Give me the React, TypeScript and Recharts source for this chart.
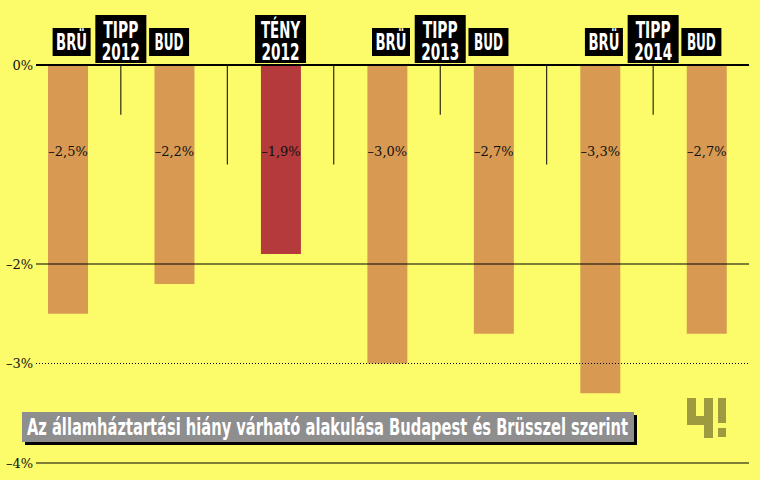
import React from "react";
import {
  BarChart,
  Bar,
  Cell,
  XAxis,
  YAxis,
  ReferenceLine,
  LabelList,
} from "recharts";

// 13 slots: bars on even slots, marker lines on odd ones
const categories = [
  "bru12", "tipp12", "bud12", "sep12", "teny12", "sep13",
  "bru13", "tipp13", "bud13", "sep14", "bru14", "tipp14", "bud14",
];
const tickLabels = [
  ["BRÜ"], ["TIPP", "2012"], ["BUD"], [], ["TÉNY", "2012"], [],
  ["BRÜ"], ["TIPP", "2013"], ["BUD"], [], ["BRÜ"], ["TIPP", "2014"], ["BUD"],
];
const deficits = [-2.5, null, -2.2, null, -1.9, null, -3.0, null, -2.7, null, -3.3, null, -2.7];
const isActual = [false, false, false, false, true, false, false, false, false, false, false, false, false];
const markerDepths = [null, -0.5, null, -1, null, -1, null, -0.5, null, -1, null, -0.5, null];
const yTicks = [0, -2, -3, -4];

const TITLE = "Az államháztartási hiány várható alakulása Budapest és Brüsszel szerint";

const BG = "#FCFC6A";
const ORANGE = "#D89A52";
const RED = "#B43A3B";
const SERIF = "'DejaVu Serif', serif";
const COND = "'DejaVu Sans Condensed', 'DejaVu Sans', sans-serif";

const textWidths: Record<string, number> = {
  "BRÜ": 31, "BUD": 29, "TIPP": 35, "TÉNY": 39, "2012": 38, "2013": 38, "2014": 38,
};

const data = categories.map((key, i) => ({ key, value: deficits[i] }));

const fmtPct = (v: number) =>
  v === 0 ? "0%" : "–" + Math.abs(v).toString().replace(".", ",") + "%";
const fmtVal = (v: number) => "–" + Math.abs(v).toFixed(1).replace(".", ",") + "%";

function BoxText({ x, y, text }: { x: number; y: number; text: string }) {
  return (
    <text
      x={x}
      y={y}
      textAnchor="middle"
      fill="#fff"
      fontFamily={COND}
      fontWeight="bold"
      fontSize={23}
      textLength={textWidths[text]}
      lengthAdjust="spacingAndGlyphs"
    >
      {text}
    </text>
  );
}

function TopTick(props: any) {
  const { x, y, payload } = props;
  const i = categories.indexOf(payload.value);
  const lines = tickLabels[i] || [];
  if (!lines.length) return null;
  if (lines.length === 2) {
    return (
      <g>
        <rect x={x - 25.5} y={y - 50} width={51} height={48} fill="#000" />
        <BoxText x={x} y={y - 27} text={lines[0]} />
        <BoxText x={x} y={y - 5} text={lines[1]} />
      </g>
    );
  }
  const isBru = lines[0] === "BRÜ";
  const bx = isBru ? x - 15 : x - 25;
  const bw = isBru ? 38 : 40;
  return (
    <g>
      <rect x={bx} y={y - 37} width={bw} height={28} fill="#000" />
      <BoxText x={bx + bw / 2} y={y - 15} text={lines[0]} />
    </g>
  );
}

function ValueLabel(props: any) {
  const { x, y, width, height, value } = props;
  if (value == null) return null;
  const top = Math.min(y, y + height);
  return (
    <text
      x={x + width / 2}
      y={top + 91}
      textAnchor="middle"
      fill="#111"
      fontFamily={SERIF}
      fontSize={13}
    >
      {fmtVal(value)}
    </text>
  );
}

export default function App() {
  return (
    <div
      style={{
        position: "absolute",
        left: 0,
        top: 0,
        width: 760,
        height: 480,
        background: BG,
        overflow: "hidden",
      }}
    >
      <BarChart
        width={760}
        height={480}
        data={data}
        margin={{ top: 5, right: 11, bottom: 17, left: 0 }}
      >
        <XAxis
          dataKey="key"
          orientation="top"
          height={60}
          interval={0}
          padding={{ left: 5, right: 16 }}
          axisLine={{ stroke: "#000", strokeWidth: 2 }}
          tickLine={false}
          tickSize={0}
          tickMargin={0}
          tick={<TopTick />}
        />
        <YAxis
          type="number"
          domain={[-4, 0]}
          ticks={yTicks}
          interval={0}
          width={36}
          axisLine={false}
          tickLine={false}
          tickSize={0}
          tickMargin={3}
          tickFormatter={fmtPct}
          tick={{ fill: "#111", fontFamily: SERIF, fontSize: 13 }}
        />
        <Bar dataKey="value" barSize={40} isAnimationActive={false}>
          {data.map((d, i) => (
            <Cell key={d.key} fill={isActual[i] ? RED : ORANGE} />
          ))}
          <LabelList dataKey="value" content={<ValueLabel />} />
        </Bar>
        <ReferenceLine y={-2} stroke="#000" strokeWidth={1} />
        <ReferenceLine y={-3} stroke="#000" strokeWidth={1} strokeDasharray="1 2" />
        <ReferenceLine y={-4} stroke="#000" strokeWidth={1} />
        {categories.map((c, i) =>
          markerDepths[i] == null ? null : (
            <ReferenceLine
              key={c}
              segment={[
                { x: c, y: 0 },
                { x: c, y: markerDepths[i] as number },
              ]}
              stroke="#000"
              strokeWidth={1}
            />
          )
        )}
      </BarChart>
      <svg
        width={760}
        height={480}
        style={{ position: "absolute", left: 0, top: 0, pointerEvents: "none" }}
      >
        <rect x={25} y={415} width={612} height={30} fill="#000" />
        <rect x={22} y={412} width={612} height={30} fill="#8E8E8E" />
        <text
          x={27}
          y={435}
          fill="#fff"
          fontFamily={COND}
          fontWeight="bold"
          fontSize={23}
          textLength={601}
          lengthAdjust="spacingAndGlyphs"
        >
          {TITLE}
        </text>
        <g fill="#9E9A40">
          <rect x={687} y={398} width={9} height={27} />
          <rect x={687} y={416} width={26} height={9} />
          <rect x={704} y={398} width={9} height={40} />
          <rect x={718} y={398} width={8} height={25} />
          <rect x={718} y={428} width={8} height={9} />
        </g>
      </svg>
    </div>
  );
}
